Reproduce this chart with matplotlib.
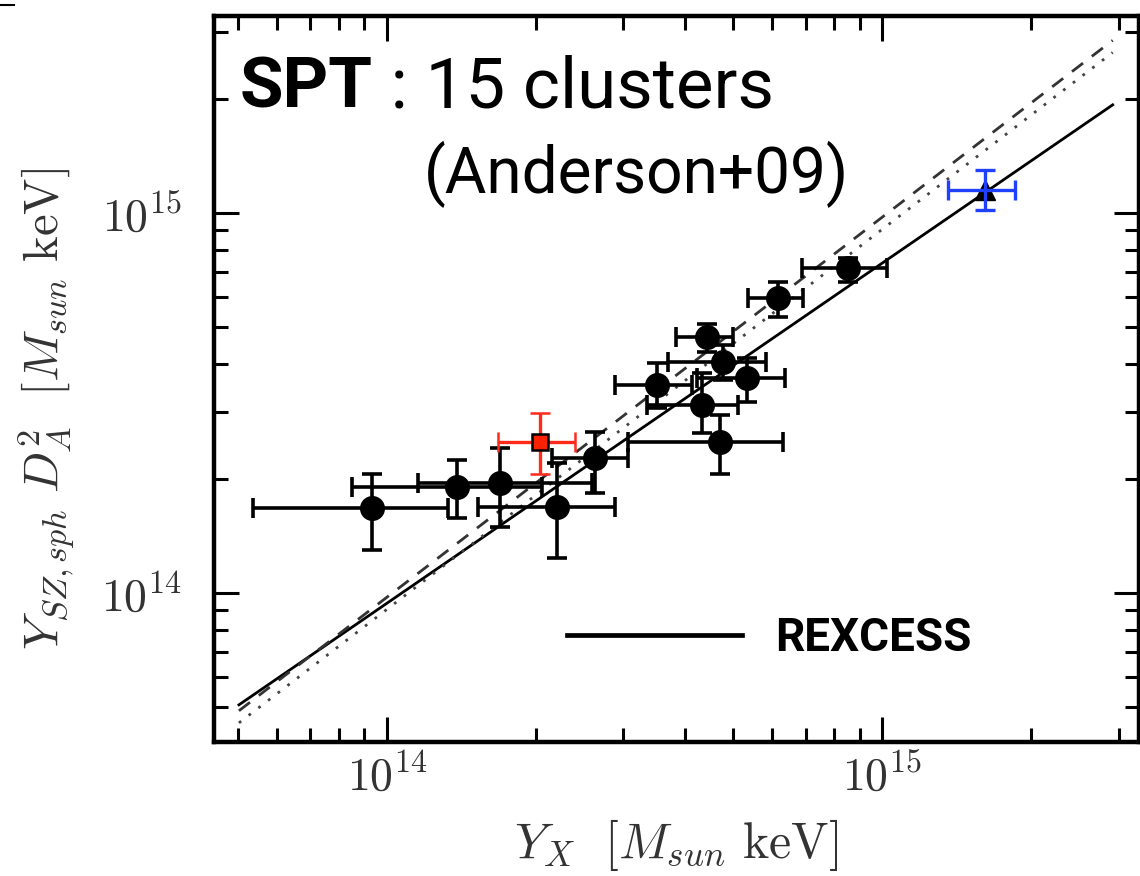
import numpy as np
import matplotlib
matplotlib.use('Agg')
import matplotlib.pyplot as plt
from matplotlib.lines import Line2D
from matplotlib.ticker import FuncFormatter, LogLocator
from matplotlib.font_manager import FontProperties

plt.rcParams['mathtext.fontset'] = 'cm'

# ---------------- data ----------------
# SPT clusters (black circles): Y_X, lower/upper ends; Y_SZ D_A^2, lower/upper ends
yx     = [9.33e13, 1.384e14, 1.69e14, 2.20e14, 2.63e14, 4.71e14, 3.51e14,
          4.33e14, 4.77e14, 5.33e14, 4.43e14, 6.17e14, 8.53e14]
yx_lo  = [5.36e13, 8.5e13, 1.155e14, 1.527e14, 2.15e14, 3.07e14, 2.89e14,
          3.35e14, 3.70e14, 4.23e14, 3.84e14, 5.36e14, 6.89e14]
yx_hi  = [1.33e14, 2.05e14, 2.59e14, 2.89e14, 3.07e14, 6.31e14, 4.13e14,
          5.12e14, 5.81e14, 6.37e14, 5.00e14, 6.92e14, 1.024e15]
ysz    = [1.675e14, 1.90e14, 1.946e14, 1.68e14, 2.26e14, 2.49e14, 3.52e14,
          3.12e14, 4.06e14, 3.68e14, 4.72e14, 5.97e14, 7.17e14]
ysz_lo = [1.30e14, 1.574e14, 1.49e14, 1.236e14, 1.83e14, 2.05e14, 3.07e14,
          2.64e14, 3.64e14, 3.18e14, 4.31e14, 5.32e14, 6.58e14]
ysz_hi = [2.05e14, 2.24e14, 2.41e14, 2.20e14, 2.65e14, 2.94e14, 4.03e14,
          3.79e14, 4.50e14, 4.15e14, 5.11e14, 6.58e14, 7.62e14]

# red square cluster
red_x, red_xlo, red_xhi = [2.04e14], [1.675e14], [2.40e14]
red_y, red_ylo, red_yhi = [2.49e14], [2.05e14], [2.98e14]

# blue triangle cluster
blue_x, blue_xlo, blue_xhi = [1.614e15], [1.358e15], [1.858e15]
blue_y, blue_ylo, blue_yhi = [1.150e15], [1.018e15], [1.297e15]

# relations: Y = norm * (Y_X / 1e14)^slope
line_x_range = [5.02e13, 2.92e15]
rexcess_norm, rexcess_slope = 9.4e13, 0.895   # solid
dashed_norm, dashed_slope = 0.975e14, 1.0     # dashed
dotted_norm, dotted_slope = 0.906e14, 1.0     # dotted

xlim = (4.47e13, 3.30e15)
ylim = (4.05e13, 3.30e15)

# ---------------- figure ----------------
W, H = 1140, 876
fig = plt.figure(figsize=(W / 100, H / 100), dpi=100)
ax = fig.add_axes([214 / W, 1 - 742 / H, 925 / W, 726 / H])
ax.set_xscale('log')
ax.set_yscale('log')
ax.set_xlim(*xlim)
ax.set_ylim(*ylim)

lx = np.array(line_x_range)
ax.plot(lx, rexcess_norm * (lx / 1e14) ** rexcess_slope, color='k', lw=2.0, zorder=2)
ax.plot(lx, dashed_norm * (lx / 1e14) ** dashed_slope, color='#333333', lw=2.0,
        ls=(0, (5, 4)), zorder=2)
ax.plot(lx, dotted_norm * (lx / 1e14) ** dotted_slope, color='#444444', lw=2.0,
        ls=(0, (1, 3.4)), zorder=2)

def err(v, lo, hi):
    v, lo, hi = map(np.asarray, (v, lo, hi))
    return [v - lo, hi - v]

ax.errorbar(yx, ysz, xerr=err(yx, yx_lo, yx_hi), yerr=err(ysz, ysz_lo, ysz_hi),
            fmt='o', ms=17, color='k', ecolor='k', elinewidth=2.6,
            capsize=7.5, capthick=2.6, zorder=5)
ax.errorbar(red_x, red_y, xerr=err(red_x, red_xlo, red_xhi),
            yerr=err(red_y, red_ylo, red_yhi),
            fmt='s', ms=11.5, mfc='#ff2200', mec='k', mew=1.8,
            ecolor='#ff2a1a', elinewidth=2.4, capsize=7.5, capthick=2.4, zorder=6)
ax.plot(blue_x, blue_y, '^', ms=15, color='k', zorder=6)
ax.errorbar(blue_x, blue_y, xerr=err(blue_x, blue_xlo, blue_xhi),
            yerr=err(blue_y, blue_ylo, blue_yhi), fmt='none',
            ecolor='#2040ff', elinewidth=2.4, capsize=7.5, capthick=2.4, zorder=7)

# spines & ticks
for s in ax.spines.values():
    s.set_linewidth(3.2)
ax.tick_params(which='both', direction='in', top=True, right=True,
               colors='k', labelcolor='#333333')
ax.tick_params(which='major', length=18, width=2.2, labelsize=33)
ax.tick_params(which='minor', length=10, width=2.2)
ax.tick_params(axis='x', which='major', pad=9)
ax.tick_params(axis='y', which='major', pad=23)
fmt = FuncFormatter(lambda v, p: r'$10^{%d}$' % int(round(np.log10(v))))
ax.xaxis.set_major_formatter(fmt)
ax.yaxis.set_major_formatter(fmt)
ax.xaxis.set_major_locator(LogLocator(base=10))
ax.yaxis.set_major_locator(LogLocator(base=10))

ax.set_xlabel(r'$Y_X\ \ [M_{sun}\ \mathrm{keV}]$', fontsize=36, color='#333333', labelpad=12)
ax.set_ylabel(r'$Y_{SZ,sph}\ D_A^2\ \ [M_{sun}\ \mathrm{keV}]$', fontsize=35,
              color='#333333')
ax.yaxis.set_label_coords(-0.148, 0.5 - 30 / 726)

# legend
leg = ax.legend(handles=[Line2D([0], [0], color='k', lw=3.4)], labels=['REXCESS'],
                loc='center left', bbox_to_anchor=((567 - 214) / 925, (742 - 638) / 726),
                frameon=False, handlelength=3.82, handletextpad=0.72,
                borderpad=0, borderaxespad=0,
                prop=FontProperties(family='Roboto', weight='bold', size=33))

# annotation texts
t_spt = fig.text(240 / W, 1 - 107 / H, 'SPT', family='Roboto', weight='bold',
                 fontsize=51, va='baseline', ha='left')
ax.annotate(' : 15 clusters', xy=(1, 0), xycoords=t_spt, va='bottom', ha='left',
            family='Roboto', weight='normal', fontsize=51)
fig.text(636 / W, 1 - 193 / H, '(Anderson+09)', family='Roboto', weight='normal',
         fontsize=46, va='baseline', ha='center')

# small stray dash at top-left
fig.add_artist(Line2D([0, 14 / W], [1 - 5 / H, 1 - 5 / H], color='k', lw=1.5,
                      transform=fig.transFigure))

fig.savefig('out.png', dpi=100)
